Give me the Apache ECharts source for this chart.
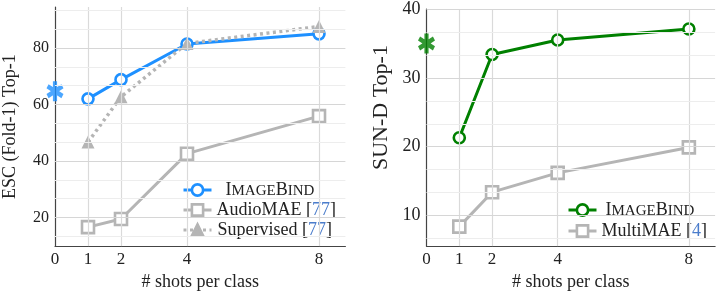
<!DOCTYPE html>
<html>
<head>
<meta charset="utf-8">
<script src="https://cdn.jsdelivr.net/npm/echarts@6/dist/echarts.min.js"></script>
<style>html,body{margin:0;padding:0;background:#fff}#c{width:720px;height:296px}</style>
</head>
<body>
<div id="c"></div>
<script>
// ---- data ----
const xTicks = [0, 1, 2, 4, 8];
const shots = [1, 2, 4, 8];
// left: ESC (Fold-1) Top-1
const escImageBind = [62.0, 68.8, 81.4, 85.0];
const escAudioMAE = [16.6, 19.5, 42.6, 55.9];
const escSupervised = [46.7, 62.7, 81.6, 87.6];
const escZeroShot = 64.7;
const escMajor = [20, 40, 60, 80];
const escMinor = [13.33, 26.67, 33.33, 46.67, 53.33, 66.67, 73.33, 86.67, 93.33];
// right: SUN-D Top-1
const sunImageBind = [21.3, 33.4, 35.5, 37.1];
const sunMultiMAE = [8.4, 13.4, 16.2, 19.9];
const sunZeroShot = 35.0;
const sunMajor = [10, 20, 30, 40];
const sunMinor = [6.67, 13.33, 16.67, 23.33, 26.67, 33.33, 36.67];

const BLUE = 'rgb(30,144,255)', GREEN = 'rgb(0,128,0)', GRAY = '#b5b5b5';
const FONT = '"Liberation Serif", "DejaVu Serif", serif';
const STAR = 'path://M38 0L62 0L62 100L38 100Z M86.9 14.8L98.9 35.6L13.1 85.2L1.1 64.4Z M98.9 64.4L86.9 85.2L1.1 35.6L13.1 14.8Z';

const pts = (xs, ys) => xs.map((x, i) => [x, ys[i]]);

function gridLines(major, minor) {
  const d = [];
  shots.forEach(v => d.push({xAxis: v, lineStyle: {color: '#dadada', width: 1.2, type: 'solid'}}));
  minor.forEach(v => d.push({yAxis: v, lineStyle: {color: '#ededed', width: 1, type: 'solid'}}));
  major.forEach(v => d.push({yAxis: v, lineStyle: {color: '#d6d6d6', width: 1.2, type: 'solid'}}));
  return d;
}

function xAxisCfg(gi) {
  return {
    type: 'value', gridIndex: gi, min: 0, max: 8.8,
    name: '# shots per class', nameLocation: 'middle', nameGap: 24,
    nameTextStyle: {fontFamily: FONT, fontSize: 18, color: '#222'},
    axisLine: {show: true, lineStyle: {color: '#444', width: 1.2}},
    axisTick: {show: false},
    splitLine: {show: false},
    axisLabel: {customValues: xTicks, fontFamily: FONT, fontSize: 17, color: '#222', margin: 5}
  };
}
function yAxisCfg(gi, min, max, major, minor, name, gap, labelSize, nameSize, namePad) {
  return {
    type: 'value', gridIndex: gi, min: min, max: max,
    name: name, nameLocation: 'middle', nameGap: gap,
    nameTextStyle: {fontFamily: FONT, fontSize: nameSize, color: '#222', padding: namePad},
    axisLine: {show: true, lineStyle: {color: '#444', width: 1.2}},
    axisTick: {show: true, inside: true, length: 3, customValues: major.concat(minor), lineStyle: {color: '#555'}},
    splitLine: {show: false},
    axisLabel: {customValues: major, fontFamily: FONT, fontSize: labelSize, color: '#222', margin: 6}
  };
}

const rich = {
  big: {fontFamily: FONT, fontSize: 18, lineHeight: 18, verticalAlign: 'bottom', color: '#222'},
  sm: {fontFamily: FONT, fontSize: 15, lineHeight: 15, verticalAlign: 'bottom', color: '#222'},
  t: {fontFamily: FONT, fontSize: 18, lineHeight: 18, verticalAlign: 'bottom', color: '#222'},
  c: {fontFamily: FONT, fontSize: 18, lineHeight: 18, verticalAlign: 'bottom', color: '#4a7ccb'},
  s1: {width: 1}, s4: {width: 4}, s9: {width: 9}
};
const labels = {
  'ImageBind ESC': '{s9|}{big|I}{sm|MAGE}{big|B}{sm|IND}',
  'AudioMAE': '{t|AudioMAE [}{c|77}{t|]}',
  'Supervised': '{s1|}{t|Supervised [}{c|77}{t|]}',
  'ImageBind SUN': '{s4|}{big|I}{sm|MAGE}{big|B}{sm|IND}',
  'MultiMAE': '{t|MultiMAE [}{c|4}{t|]}'
};

function lineSeries(name, gi, ys, color, symbol, size, extra) {
  return Object.assign({
    name: name, type: 'line', xAxisIndex: gi, yAxisIndex: gi,
    data: pts(shots, ys), symbol: symbol, symbolSize: size, showSymbol: true,
    lineStyle: {color: color, width: 3},
    itemStyle: {color: '#fff', borderColor: color, borderWidth: 2.6},
    z: 3
  }, extra || {});
}

function legendCfg(left, top, gap, names) {
  return {
    orient: 'vertical', left: left, top: top, itemWidth: 28, itemHeight: 14, itemGap: gap,
    selectedMode: false, data: names,
    lineStyle: {width: 3},
    itemStyle: {borderWidth: 2.6},
    formatter: n => labels[n], textStyle: {rich: rich, fontFamily: FONT, fontSize: 18}
  };
}

const option = {
  animation: false,
  textStyle: {fontFamily: FONT},
  grid: [
    {left: 55, top: 7, width: 290.4, height: 241.2, containLabel: false},
    {left: 426.5, top: 7.3, width: 288.6, height: 241, containLabel: false}
  ],
  xAxis: [xAxisCfg(0), xAxisCfg(1)],
  yAxis: [
    yAxisCfg(0, 9.9, 94.5, escMajor, escMinor, 'ESC (Fold-1) Top-1', 36, 16, 18, 0),
    yAxisCfg(1, 5.57, 40, sunMajor, sunMinor, 'SUN-D Top-1', 34, 18, 22, [0, 0, 0, 40])
  ],
  legend: [
    legendCfg(177, 176, 2, ['ImageBind ESC', 'AudioMAE', 'Supervised']),
    legendCfg(562, 196, 3, ['ImageBind SUN', 'MultiMAE'])
  ],
  series: [
    {type: 'line', xAxisIndex: 0, yAxisIndex: 0, data: [], z: 1, silent: true,
     markLine: {silent: true, symbol: 'none', label: {show: false}, animation: false, data: gridLines(escMajor, escMinor)}},
    {type: 'line', xAxisIndex: 1, yAxisIndex: 1, data: [], z: 1, silent: true,
     markLine: {silent: true, symbol: 'none', label: {show: false}, animation: false, data: gridLines(sunMajor, sunMinor)}},
    lineSeries('ImageBind ESC', 0, escImageBind, BLUE, 'circle', 11),
    lineSeries('AudioMAE', 0, escAudioMAE, GRAY, 'rect', 12),
    lineSeries('Supervised', 0, escSupervised, GRAY, 'triangle', 13, {
      lineStyle: {color: GRAY, width: 3.5, type: [3, 3.5]},
      itemStyle: {color: GRAY, borderColor: GRAY, borderWidth: 0}
    }),
    {type: 'scatter', xAxisIndex: 0, yAxisIndex: 0, data: [[0, escZeroShot]], symbol: STAR, symbolSize: [17, 20],
     itemStyle: {color: BLUE}, z: 4, clip: false},
    lineSeries('ImageBind SUN', 1, sunImageBind, GREEN, 'circle', 11),
    lineSeries('MultiMAE', 1, sunMultiMAE, GRAY, 'rect', 12),
    {type: 'scatter', xAxisIndex: 1, yAxisIndex: 1, data: [[0, sunZeroShot]], symbol: STAR, symbolSize: [17, 20],
     itemStyle: {color: GREEN}, z: 4, clip: false}
  ]
};
const chart = echarts.init(document.getElementById('c'), null, {renderer: 'canvas'});
chart.setOption(option);
</script>
</body>
</html>
